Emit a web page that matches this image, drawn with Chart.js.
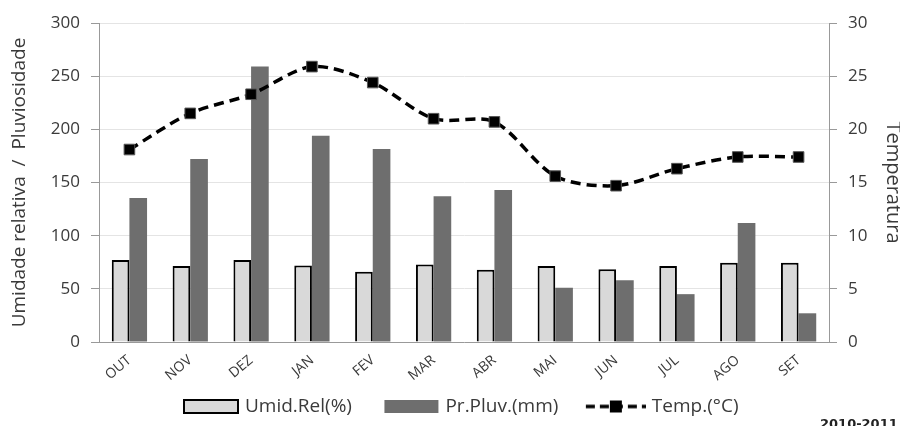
<!DOCTYPE html>
<html>
<head>
<meta charset="utf-8">
<script src="https://cdn.jsdelivr.net/npm/chart.js@4.4.1/dist/chart.umd.min.js"></script>
<style>
  html, body { margin: 0; padding: 0; background: #fff; }
  #wrap { width: 900px; height: 426px; }
</style>
</head>
<body>
<div id="wrap"><canvas id="myChart" width="900" height="426"></canvas></div>
<script>
// data
const months = ['OUT', 'NOV', 'DEZ', 'JAN', 'FEV', 'MAR', 'ABR', 'MAI', 'JUN', 'JUL', 'AGO', 'SET']
const umidRel = [77, 71.5, 77, 72, 66, 73, 68, 71.5, 68.5, 71.5, 74.5, 74.5]
const pluv = [135.5, 172, 259, 194, 181.5, 137, 143, 51, 58, 45, 112, 27]
const temp = [18.1, 21.5, 23.3, 25.9, 24.4, 21, 20.7, 15.6, 14.7, 16.3, 17.4, 17.4]

const font = '"Open Sans", Lato, sans-serif'
const textCol = '#3a3a3a'

// legend symbols, drawn at the right end of a wider transparent canvas
// so that the gap between legend entries comes out wider than the box-to-text gap
const iconBox = 74
const iconW = iconBox + 7
function boxIcon(fill, stroke) {
    const c = document.createElement('canvas')
    c.width = iconW; c.height = 15
    const ctx = c.getContext('2d')
    const x0 = iconW - 56
    ctx.fillStyle = fill
    ctx.fillRect(x0 + 1, 1, 54, 13)
    if (stroke) {
        ctx.strokeStyle = stroke
        ctx.lineWidth = 2
        ctx.strokeRect(x0 + 1, 1, 54, 13)
    }
    return c
}
function lineIcon() {
    const c = document.createElement('canvas')
    c.width = iconW; c.height = 14
    const ctx = c.getContext('2d')
    const x0 = iconW - 60
    ctx.strokeStyle = '#000'
    ctx.lineWidth = 3.5
    ctx.setLineDash([9, 5])
    ctx.beginPath()
    ctx.moveTo(x0, 7); ctx.lineTo(iconW, 7)
    ctx.stroke()
    ctx.fillStyle = '#000'
    ctx.fillRect(x0 + 24, 1, 12, 12)
    return c
}
const icons = [boxIcon('#d9d9d9', '#000'), boxIcon('#6e6e6e'), lineIcon()]

// footnote text
const footnote = {
    id: 'footnote',
    afterDraw(chart) {
        const ctx = chart.ctx
        ctx.save()
        ctx.font = 'bold 13px "DejaVu Sans", sans-serif'
        ctx.fillStyle = '#222'
        ctx.textBaseline = 'top'
        ctx.fillText('2010-2011', 820, 418)
        ctx.restore()
    }
}

const data = {
    labels: months,
    datasets: [
        {
            type: 'line',
            label: 'Temp.(°C)',
            data: temp,
            yAxisID: 'y2',
            borderColor: '#000',
            borderWidth: 3.5,
            borderDash: [10, 6],
            tension: 0.3,
            pointStyle: 'rect',
            pointRadius: 7.5,
            pointBackgroundColor: '#000',
            pointBorderColor: '#555',
            pointBorderWidth: 1,
            order: 0
        },
        {
            label: 'Umid.Rel(%)',
            data: umidRel,
            yAxisID: 'y',
            backgroundColor: '#d9d9d9',
            borderColor: '#000',
            borderWidth: 2,
            order: 1
        },
        {
            label: 'Pr.Pluv.(mm)',
            data: pluv,
            yAxisID: 'y',
            backgroundColor: '#6e6e6e',
            borderWidth: 0,
            order: 1
        }
    ]
}

const config = {
    type: 'bar',
    data: data,
    options: {
        responsive: false,
        animation: false,
        layout: { padding: { top: 23, bottom: 0, left: 0, right: 0 } },
        datasets: {
            bar: { categoryPercentage: 0.58, barPercentage: 1 }
        },
        plugins: {
            tooltip: { enabled: false },
            legend: {
                position: 'bottom',
                labels: {
                    usePointStyle: true,
                    pointStyleWidth: iconBox,
                    boxHeight: 14,
                    padding: 10,
                    color: textCol,
                    font: { family: font, size: 19 },
                    generateLabels(chart) {
                        const order = [1, 2, 0]
                        return order.map((i, k) => ({
                            text: chart.data.datasets[i].label,
                            pointStyle: icons[k],
                            datasetIndex: i,
                            fillStyle: '#000',
                            strokeStyle: '#000',
                            lineWidth: 0,
                            fontColor: textCol
                        }))
                    }
                }
            }
        },
        scales: {
            x: {
                grid: { display: false },
                border: { color: '#999' },
                ticks: {
                    color: textCol,
                    font: { family: font, size: 14 },
                    minRotation: 40,
                    maxRotation: 40,
                    padding: 2
                },
                afterFit(scale) { scale.height = 45 }
            },
            y: {
                position: 'left',
                min: 0,
                max: 300,
                ticks: { stepSize: 50, color: textCol, font: { family: font, size: 17 }, padding: 11 },
                grid: { color: '#e4e4e4', tickLength: 8, tickColor: '#999' },
                border: { color: '#999' },
                title: {
                    display: true,
                    text: 'Umidade relativa  /  Pluviosidade',
                    color: textCol,
                    font: { family: font, size: 19, lineHeight: 1 },
                    padding: { top: 10, bottom: 0 }
                },
                afterFit(scale) { scale.width = 99 }
            },
            y2: {
                position: 'right',
                min: 0,
                max: 30,
                ticks: { stepSize: 5, color: textCol, font: { family: font, size: 17 }, padding: 11 },
                grid: { drawOnChartArea: false, tickLength: 8, tickColor: '#999' },
                border: { color: '#999' },
                title: {
                    display: true,
                    text: 'Temperatura',
                    color: textCol,
                    font: { family: font, size: 20, lineHeight: 1 },
                    padding: { top: -3, bottom: 0 }
                },
                afterFit(scale) { scale.width = 71 }
            }
        }
    },
    plugins: [footnote]
}

const myChart = new Chart(document.getElementById('myChart'), config)
</script>
</body>
</html>
